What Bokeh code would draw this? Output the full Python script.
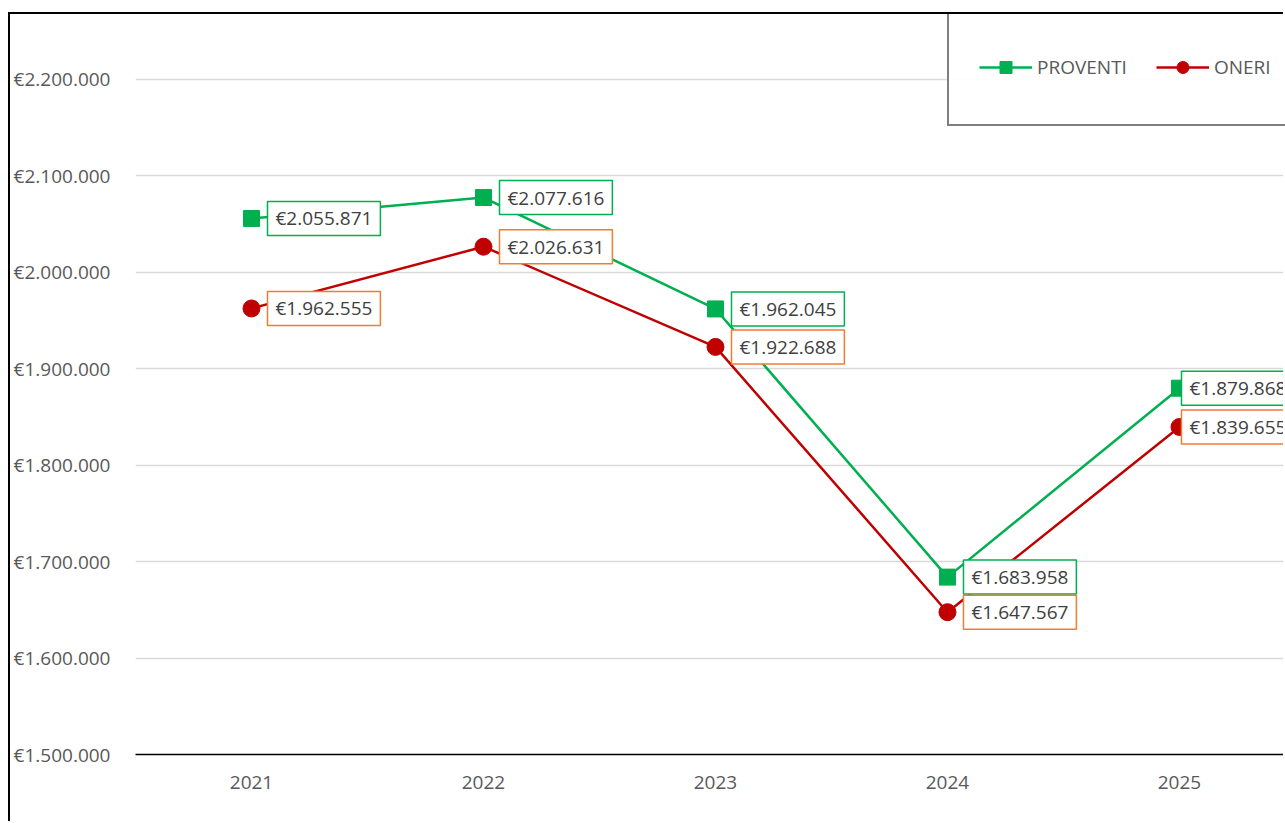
from bokeh.plotting import figure
from bokeh.models import (ColumnDataSource, Range1d, FixedTicker, Label,
                          Legend, LegendItem)
from bokeh.embed import file_html
from bokeh.resources import INLINE

YEARS = [2021, 2022, 2023, 2024, 2025]
PROVENTI = [2055871, 2077616, 1962045, 1683958, 1879868]
ONERI = [1962555, 2026631, 1922688, 1647567, 1839655]
Y_TICKS = [1500000, 1600000, 1700000, 1800000, 1900000, 2000000, 2100000, 2200000]
SERIES_NAMES = ["PROVENTI", "ONERI"]


def eur(v):
    return "\u20ac" + f"{v:,}".replace(",", ".")


GREEN = "#00B050"
RED = "#C00000"
ORANGE = "#ED7D31"
FONT = "Open Sans"
FS = "19px"

src_p = ColumnDataSource(dict(x=YEARS, y=PROVENTI))
src_o = ColumnDataSource(dict(x=YEARS, y=ONERI))

p = figure(width=1275, height=809, output_backend="svg", toolbar_location=None,
           x_range=Range1d(2020.5, 2025.457), y_range=Range1d(1500000, 2267400),
           min_border_left=125, min_border_right=0, min_border_top=0,
           min_border_bottom=69)
p.outline_line_color = None
p.styles = {"border-left": "2px solid black", "border-top": "2px solid black"}
p.margin = (12, 0, 0, 8)

# axes
p.xaxis.ticker = FixedTicker(ticks=YEARS)
p.xaxis.major_label_overrides = {y: str(y) for y in YEARS}
p.xaxis.axis_line_color = "black"
p.xaxis.axis_line_width = 1.5
p.xaxis.major_tick_line_color = None
p.xaxis.minor_tick_line_color = None
p.xaxis.major_label_standoff = 15
p.xaxis.major_label_text_font = FONT
p.xaxis.major_label_text_font_size = FS
p.xaxis.major_label_text_color = "#595959"

p.yaxis.ticker = FixedTicker(ticks=Y_TICKS)
p.yaxis.major_label_overrides = {t: eur(t) for t in Y_TICKS}
p.yaxis.axis_line_color = None
p.yaxis.major_tick_line_color = None
p.yaxis.major_tick_out = 0
p.yaxis.major_tick_in = 0
p.yaxis.minor_tick_line_color = None
p.yaxis.major_label_standoff = 25
p.yaxis.major_label_text_font = FONT
p.yaxis.major_label_text_font_size = FS
p.yaxis.major_label_text_color = "#595959"

p.xgrid.grid_line_color = None
p.ygrid.grid_line_color = "#D9D9D9"
p.ygrid.grid_line_width = 1.5

# series
lp = p.line("x", "y", source=src_p, line_color=GREEN, line_width=2.5)
lo = p.line("x", "y", source=src_o, line_color=RED, line_width=2.5)
sp = p.scatter("x", "y", source=src_p, marker="square", size=16,
               fill_color=GREEN, line_color=GREEN)
so = p.scatter("x", "y", source=src_o, marker="circle", size=17,
               fill_color=RED, line_color=RED)

for vals, col in ((PROVENTI, GREEN), (ONERI, ORANGE)):
    for i, (x, v) in enumerate(zip(YEARS, vals)):
        off = 16 if i < len(YEARS) - 1 else 2
        p.add_layout(Label(x=x, y=v, text=eur(v), x_offset=off,
                           text_align="left", text_baseline="middle",
                           text_font=FONT, text_font_size=FS, text_color="#404040",
                           background_fill_color="white", border_line_color=col,
                           border_line_width=1.5, padding=(8, 4)))

legend = Legend(items=[LegendItem(label=SERIES_NAMES[0], renderers=[lp, sp]),
                       LegendItem(label=SERIES_NAMES[1], renderers=[lo, so])],
                orientation="horizontal", location=(812, 628),
                glyph_width=53, glyph_height=30, label_height=54,
                padding=30, spacing=29, label_standoff=5, margin=0,
                border_line_color="black", border_line_width=2,
                label_text_font=FONT, label_text_font_size=FS,
                label_text_color="#595959", background_fill_color="white")
p.add_layout(legend)

open("out.html", "w").write(file_html(p, INLINE))
